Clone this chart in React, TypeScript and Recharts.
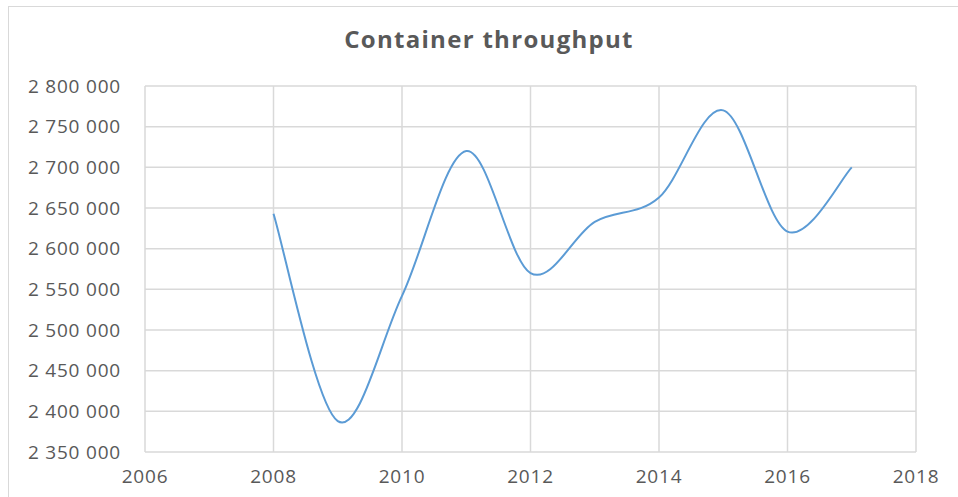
import React from 'react'
import { LineChart, Line, XAxis, YAxis, CartesianGrid } from 'recharts'

const years = [2008, 2009, 2010, 2011, 2012, 2013, 2014, 2015, 2016, 2017]
const throughput = [2643000, 2388000, 2542000, 2720000, 2570000, 2633000, 2663000, 2770000, 2621000, 2700000]
const xTicks = [2006, 2008, 2010, 2012, 2014, 2016, 2018]
const yTicks = [2350000, 2400000, 2450000, 2500000, 2550000, 2600000, 2650000, 2700000, 2750000, 2800000]

const data = years.map((y, i) => ({ year: y, value: throughput[i] }))

const fmtNum = (n: number) => String(n).replace(/\B(?=(\d{3})+(?!\d))/g, ' ')

// Excel-like smoothed line (Catmull-Rom as cubic beziers)
const excelSmooth = (context: any) => {
  let pts: [number, number][] = []
  return {
    areaStart() {},
    areaEnd() {},
    lineStart() { pts = [] },
    point(x: number, y: number) { pts.push([+x, +y]) },
    lineEnd() {
      if (!pts.length) return
      context.moveTo(pts[0][0], pts[0][1])
      for (let i = 0; i < pts.length - 1; i++) {
        const p0 = pts[Math.max(i - 1, 0)]
        const p1 = pts[i]
        const p2 = pts[i + 1]
        const p3 = pts[Math.min(i + 2, pts.length - 1)]
        context.bezierCurveTo(
          p1[0] + (p2[0] - p0[0]) / 6, p1[1] + (p2[1] - p0[1]) / 6,
          p2[0] - (p3[0] - p1[0]) / 6, p2[1] - (p3[1] - p1[1]) / 6,
          p2[0], p2[1]
        )
      }
    },
  }
}

const tickStyle = { fill: '#595959', fontSize: 19, fontFamily: 'Open Sans', letterSpacing: 0.8 }

export default function App() {
  return (
    <div style={{ position: 'fixed', left: 0, top: 0, width: 958, height: 497, overflow: 'hidden', background: '#fff' }}>
      <div style={{ position: 'absolute', left: 8, top: 6, width: 980, height: 520, border: '1px solid #d9d9d9', boxSizing: 'border-box' }} />
      <div style={{
        position: 'absolute', left: 0, top: 24, width: 978, textAlign: 'center',
        fontFamily: 'Open Sans', fontWeight: 700, fontSize: 24, letterSpacing: 1.3, color: '#595959', lineHeight: '30px',
      }}>
        Container throughput
      </div>
      <div style={{ position: 'absolute', left: 0, top: 0 }}>
        <LineChart width={958} height={497} data={data} margin={{ top: 86, right: 42, bottom: 0, left: 0 }}>
          <CartesianGrid stroke="#d9d9d9" strokeWidth={1.5} />
          <XAxis
            dataKey="year" type="number" domain={[2006, 2018]} ticks={xTicks} height={45}
            axisLine={false} tickLine={false} tickSize={0} tickMargin={18}
            tick={tickStyle} interval={0}
          />
          <YAxis
            type="number" domain={[2350000, 2800000]} ticks={yTicks} width={145}
            axisLine={false} tickLine={false} tickSize={0} tickMargin={24}
            tick={tickStyle} tickFormatter={fmtNum} interval={0}
          />
          <Line
            dataKey="value" type={excelSmooth as any} stroke="#5b9bd5" strokeWidth={2}
            dot={false} activeDot={false} isAnimationActive={false}
          />
        </LineChart>
      </div>
    </div>
  )
}
